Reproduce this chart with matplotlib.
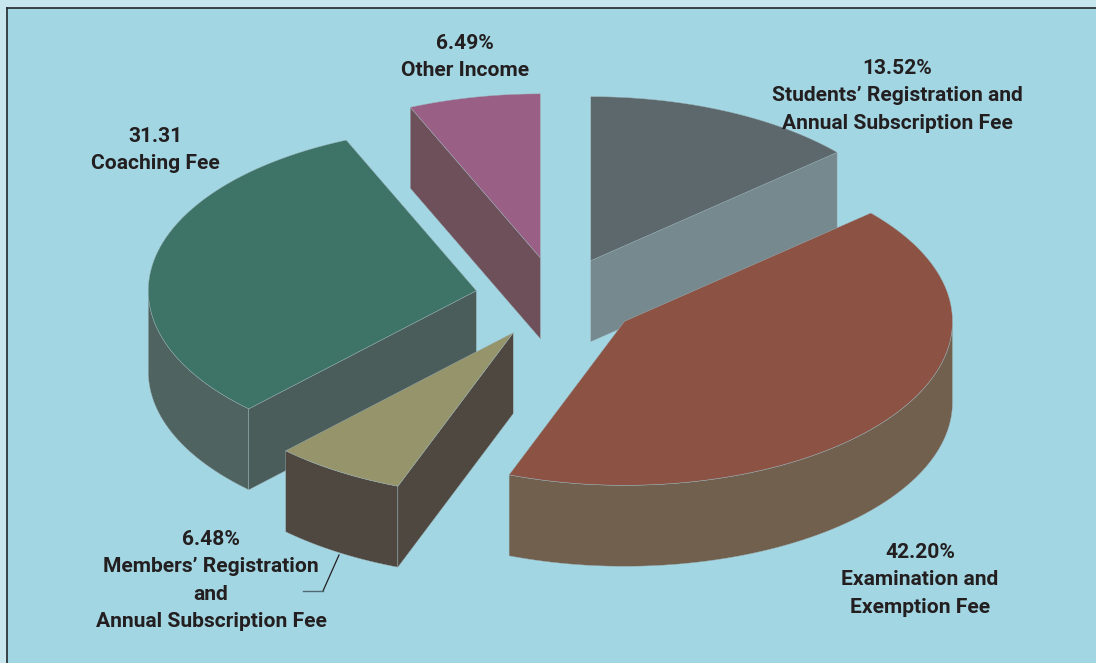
import numpy as np
import matplotlib
matplotlib.use("Agg")
import matplotlib.pyplot as plt
from matplotlib.patches import Polygon

# clockwise from 12 o'clock
values = [13.52, 42.20, 6.48, 31.31, 6.49]
top_colors = ["#5c686c", "#8c5345", "#96946b", "#3e7368", "#9a5f85"]
wall_colors = ["#76898f", "#70604d", "#4f4840", "#4f6360", "#6e505b"]
cut_colors = ["#76898f", "#70604d", "#4f4840", "#4b5d5b", "#6e505b"]
label_lines = [
    ["13.52%", "Students\u2019 Registration and", "Annual Subscription Fee"],
    ["42.20%", "Examination and", "Exemption Fee"],
    ["6.48%", "Members\u2019 Registration", "and", "Annual Subscription Fee"],
    ["31.31", "Coaching Fee"],
    ["6.49%", "Other Income"],
]
label_x = [897, 920, 211, 155, 465]
label_y = [68, 552, 539, 136, 43]

CX, CY = 557, 298
A, B = 328, 164
DEPTH = 81
EXPLODE = 0.25
LINE_PITCH = 27.6
EDGE = "#9db2b8"

plt.rcParams["font.family"] = ["Roboto", "Liberation Sans", "DejaVu Sans"]

fig = plt.figure(figsize=(10.96, 6.63), dpi=100, facecolor="#c8e6ee")
ax = fig.add_axes([7 / 1096, 0, 1089 / 1096, 655 / 663], facecolor="#a3d6e3")
ax.set_xlim(7, 1096)
ax.set_ylim(663, 8)
ax.set_xticks([])
ax.set_yticks([])
for side in ["right", "bottom"]:
    ax.spines[side].set_visible(False)
for side in ["left", "top"]:
    ax.spines[side].set_color("#22282a")
    ax.spines[side].set_linewidth(1.2)


def rim(x0, y0, angles):
    rad = np.radians(angles)
    return np.column_stack([x0 + A * np.cos(rad), y0 - B * np.sin(rad)])


def face(points, color, zorder):
    ax.add_patch(Polygon(points, closed=True, facecolor=color, edgecolor=EDGE,
                         linewidth=0.3, joinstyle="round", zorder=zorder))


# slices drawn back to front, the big front one lies over its neighbour
order = [4, 0, 3, 2, 1]
edges = 90 - np.cumsum([0] + values) * 3.6
drop = np.array([0, DEPTH])
for z, i in enumerate(order):
    t1, t2 = edges[i], edges[i + 1]
    mid = np.radians((t1 + t2) / 2)
    x0 = CX + EXPLODE * A * np.cos(mid)
    y0 = CY - EXPLODE * B * np.sin(mid)
    apex = np.array([[x0, y0]])

    # outer wall, only the part on the front half of the ellipse
    t = np.linspace(t1, t2, 200)
    front = t[np.sin(np.radians(t)) < 0]
    if len(front):
        arc = rim(x0, y0, front)
        face(np.vstack([arc, arc[::-1] + drop]), wall_colors[i], z * 10)

    # cut faces that look towards the viewer
    for angle, visible in [(t1, np.cos(np.radians(t1)) < -1e-6),
                           (t2, np.cos(np.radians(t2)) > 1e-6)]:
        if visible:
            corner = rim(x0, y0, [angle])
            face(np.vstack([apex, corner, corner + drop, apex + drop]), cut_colors[i], z * 10 + 1)

    face(np.vstack([apex, rim(x0, y0, t)]), top_colors[i], z * 10 + 2)

for lines, x, y in zip(label_lines, label_x, label_y):
    for k, line in enumerate(lines):
        ax.text(x, y + k * LINE_PITCH, line, ha="center", va="center", fontsize=15.1,
                fontweight="bold", color="#231f20", zorder=100)

# leader for the members slice
ax.plot([339, 323], [555, 591], color="#231f20", linewidth=0.9, zorder=100)
ax.plot([323, 303], [591, 591], color="#4f6a72", linewidth=1.0, zorder=100)

fig.savefig("out.png", dpi=100, facecolor=fig.get_facecolor())
